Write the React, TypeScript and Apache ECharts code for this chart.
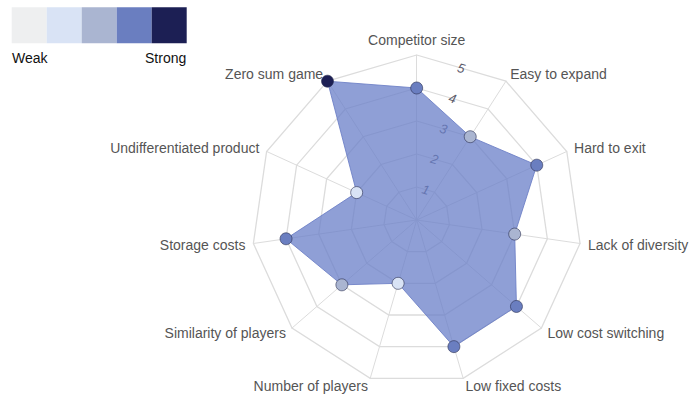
import React, { useEffect, useRef } from "react";
import * as echarts from "echarts";

const indicators = [
  "Competitor size",
  "Easy to expand",
  "Hard to exit",
  "Lack of diversity",
  "Low cost switching",
  "Low fixed costs",
  "Number of players",
  "Similarity of players",
  "Storage costs",
  "Undifferentiated product",
  "Zero sum game",
];
const values = [4, 3, 4, 3, 4, 4, 2, 3, 4, 2, 5];
const levels = [1, 2, 3, 4, 5];
const pieceValues = [1, 2, 3, 4, 5];
const pieceColors = ["#eeeff0", "#d9e3f5", "#aab5d1", "#6a7ec0", "#1c1f54"];
const legendTexts = ["Weak", "Strong"];

export default function App() {
  const ref = useRef<HTMLDivElement>(null);
  useEffect(() => {
    if (!ref.current) return;
    const chart = echarts.init(ref.current, undefined, { renderer: "svg" });
    const n = indicators.length;
    const maxV = levels[levels.length - 1];
    const center = [416.7, 220];
    const R = 165;
    // radar draws counter-clockwise: reorder so indicators appear clockwise
    const order = [0, ...indicators.map((_, i) => n - 1 - i).slice(0, n - 1)];
    const font = "'Liberation Sans', Arial, sans-serif";
    const option: any = {
      animation: false,
      radar: {
        center,
        radius: R,
        startAngle: 90,
        shape: "polygon",
        splitNumber: levels.length,
        nameGap: 8,
        indicator: order.map((i) => ({ name: indicators[i], min: 0, max: maxV })),
        axisName: { color: "#555", fontSize: 14, fontFamily: font },
        axisLine: { lineStyle: { color: "#dcdcdc", width: 1 } },
        splitLine: { lineStyle: { color: "#dcdcdc", width: 1.3 } },
        splitArea: { show: false },
      },
      polar: [
        { center, radius: R },
        { center, radius: R * Math.cos(Math.PI / n) },
      ],
      angleAxis: [
        {
          polarIndex: 0,
          type: "category",
          data: indicators,
          boundaryGap: false,
          startAngle: 90,
          clockwise: true,
          show: false,
        },
        {
          polarIndex: 1,
          type: "value",
          min: 0,
          max: 360,
          startAngle: 90 - 180 / n,
          show: false,
        },
      ],
      radiusAxis: [
        { polarIndex: 0, type: "value", min: 0, max: maxV, show: false },
        {
          polarIndex: 1,
          type: "value",
          min: 0,
          max: maxV,
          interval: 1,
          axisLine: { show: false },
          axisTick: { show: false },
          splitLine: { show: false },
          axisLabel: {
            margin: 0,
            align: "center",
            verticalAlign: "middle",
            rotate: -16,
            fontStyle: "italic",
            fontSize: 13,
            color: "#5a5a6a",
            fontFamily: font,
            formatter: (v: number) => (levels.includes(v) ? String(v) : ""),
          },
        },
      ],
      visualMap: {
        type: "piecewise",
        seriesIndex: 1,
        dimension: 0,
        orient: "horizontal",
        left: 11.7,
        top: 7.3,
        padding: 0,
        itemWidth: 35,
        itemHeight: 36,
        itemGap: 0,
        itemSymbol: "rect",
        showLabel: false,
        selectedMode: false,
        pieces: pieceValues.map((v, i) => ({ value: v, color: pieceColors[i] })),
      },
      graphic: [
        {
          type: "text",
          left: 12,
          top: 51,
          style: { text: legendTexts[0], fill: "#111", font: `14px ${font}` },
        },
        {
          type: "text",
          left: 145,
          top: 51,
          style: { text: legendTexts[1], fill: "#111", font: `14px ${font}` },
        },
      ],
      series: [
        {
          type: "radar",
          symbol: "none",
          lineStyle: { color: "#7384c6", width: 1, opacity: 0.9 },
          areaStyle: { color: "#6a7fc8", opacity: 0.75 },
          data: [{ value: order.map((i) => values[i]) }],
        },
        {
          type: "scatter",
          coordinateSystem: "polar",
          polarIndex: 0,
          symbolSize: 12,
          itemStyle: { borderColor: "rgba(40,45,80,0.6)", borderWidth: 1, opacity: 1 },
          data: values.map((v, i) => [v, indicators[i]]),
        },
      ],
    };
    chart.setOption(option);
    return () => chart.dispose();
  }, []);
  return (
    <div
      ref={ref}
      style={{ position: "absolute", left: 0, top: 0, width: 690, height: 400, background: "#fff" }}
    />
  );
}
